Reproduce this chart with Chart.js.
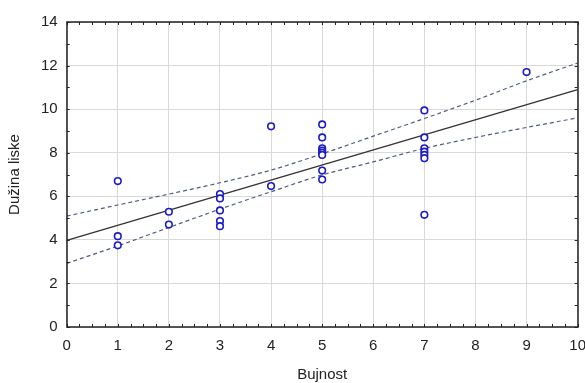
<!DOCTYPE html>
<html>
<head>
<meta charset="utf-8">
<script src="https://cdn.jsdelivr.net/npm/chart.js@4.4.0/dist/chart.umd.min.js"></script>
<style>
  html, body { margin: 0; padding: 0; background: #fff; overflow: hidden; }
  #wrap { width: 585px; height: 383px; overflow: hidden; }
</style>
</head>
<body>
<div id="wrap"><canvas id="myChart" width="596" height="383"></canvas></div>
<script>
'use strict';

// observed points
let bujnost = [1, 1, 1, 2, 2, 3, 3, 3, 3, 3, 4, 4,
  5, 5, 5, 5, 5, 5, 5, 5, 7, 7, 7, 7, 7, 7, 7, 9];
let duzina = [6.7, 4.17, 3.75, 5.29, 4.7, 6.1, 5.9, 5.35, 4.86, 4.63, 9.21, 6.47,
  9.3, 8.7, 8.2, 8.1, 8.0, 7.9, 7.18, 6.77, 9.94, 8.7, 8.2, 8.05, 7.9, 7.75, 5.15, 11.7];

// fitted line and confidence band
let fitX = [0, 10];
let fitY = [3.98, 10.9];
let bandX = [0, 1, 2, 3, 4, 5, 6, 7, 8, 9, 10];
let upperY = [5.09, 5.6, 6.1, 6.62, 7.2, 7.95, 8.76, 9.57, 10.41, 11.3, 12.12];
let lowerY = [2.92, 3.72, 4.57, 5.41, 6.21, 6.98, 7.58, 8.2, 8.7, 9.16, 9.6];

let xTicks = [0, 1, 2, 3, 4, 5, 6, 7, 8, 9, 10];
let yTicks = [0, 2, 4, 6, 8, 10, 12, 14];

function toPoints(xs, ys) {
  let pts = [];
  for (let i = 0; i < xs.length; i++) {
    pts.push({ x: xs[i], y: ys[i] });
  }
  return pts;
}

// box round the plot with small inward ticks
let framePlugin = {
  id: 'frame',
  afterDraw(chart) {
    let ctx = chart.ctx;
    let a = chart.chartArea;
    let xs = chart.scales.x;
    let ys = chart.scales.y;
    ctx.save();
    ctx.strokeStyle = '#222';
    ctx.lineWidth = 1;
    for (let v = 0; v <= 10.001; v += 0.25) {
      let px = Math.round(xs.getPixelForValue(v)) + 0.5;
      ctx.beginPath();
      ctx.moveTo(px, a.bottom);
      ctx.lineTo(px, a.bottom - 3);
      ctx.moveTo(px, a.top);
      ctx.lineTo(px, a.top + 3);
      ctx.stroke();
    }
    for (let v = 0; v <= 14; v += 1) {
      let py = Math.round(ys.getPixelForValue(v)) + 0.5;
      ctx.beginPath();
      ctx.moveTo(a.left, py);
      ctx.lineTo(a.left + 3, py);
      ctx.moveTo(a.right, py);
      ctx.lineTo(a.right - 3, py);
      ctx.stroke();
    }
    ctx.lineWidth = 1.5;
    ctx.strokeRect(Math.round(a.left), Math.round(a.top), Math.round(a.right - a.left), Math.round(a.bottom - a.top));
    ctx.restore();
  }
};

let chartObject = {
  type: 'scatter',
  data: {
    datasets: [{
      label: 'Dužina liske',
      data: toPoints(bujnost, duzina),
      pointRadius: 3.3,
      pointBorderWidth: 1.6,
      borderColor: '#1c1cc4',
      backgroundColor: '#ffffff'
    },
    {
      label: 'fit',
      data: toPoints(fitX, fitY),
      showLine: true,
      pointRadius: 0,
      borderColor: '#333333',
      borderWidth: 1.3
    },
    {
      label: 'upper',
      data: toPoints(bandX, upperY),
      showLine: true,
      pointRadius: 0,
      cubicInterpolationMode: 'monotone',
      borderColor: '#4d5e80',
      borderWidth: 1.2,
      borderDash: [4, 3]
    },
    {
      label: 'lower',
      data: toPoints(bandX, lowerY),
      showLine: true,
      pointRadius: 0,
      cubicInterpolationMode: 'monotone',
      borderColor: '#4d5e80',
      borderWidth: 1.2,
      borderDash: [4, 3]
    }
    ]
  },
  options: {
    responsive: false,
    animation: false,
    layout: { padding: { top: 22, left: 6, right: 0, bottom: 0 } },
    plugins: {
      legend: { display: false },
      tooltip: { enabled: false }
    },
    scales: {
      x: {
        type: 'linear',
        min: 0,
        max: 10,
        afterBuildTicks(scale) {
          scale.ticks = xTicks.map(v => ({ value: v }));
        },
        grid: { color: '#d9d9d9', drawTicks: false },
        border: { display: false },
        ticks: {
          padding: 10,
          color: '#222',
          font: { family: 'Liberation Sans, Arial, sans-serif', size: 15 }
        },
        title: {
          display: true,
          text: 'Bujnost',
          color: '#222',
          padding: { top: 1, bottom: -1 },
          font: { family: 'Liberation Sans, Arial, sans-serif', size: 15 }
        }
      },
      y: {
        min: 0,
        max: 14,
        afterBuildTicks(scale) {
          scale.ticks = yTicks.map(v => ({ value: v }));
        },
        grid: { color: '#d9d9d9', drawTicks: false },
        border: { display: false },
        ticks: {
          padding: 9,
          color: '#222',
          font: { family: 'Liberation Sans, Arial, sans-serif', size: 15 }
        },
        title: {
          display: true,
          text: 'Dužina liske',
          color: '#222',
          padding: { top: 0, bottom: 8 },
          font: { family: 'Liberation Sans, Arial, sans-serif', size: 15 }
        }
      }
    }
  },
  plugins: [framePlugin]
};

let ctx = document.getElementById('myChart').getContext('2d');
let myChart = new Chart(ctx, chartObject);
</script>
</body>
</html>
